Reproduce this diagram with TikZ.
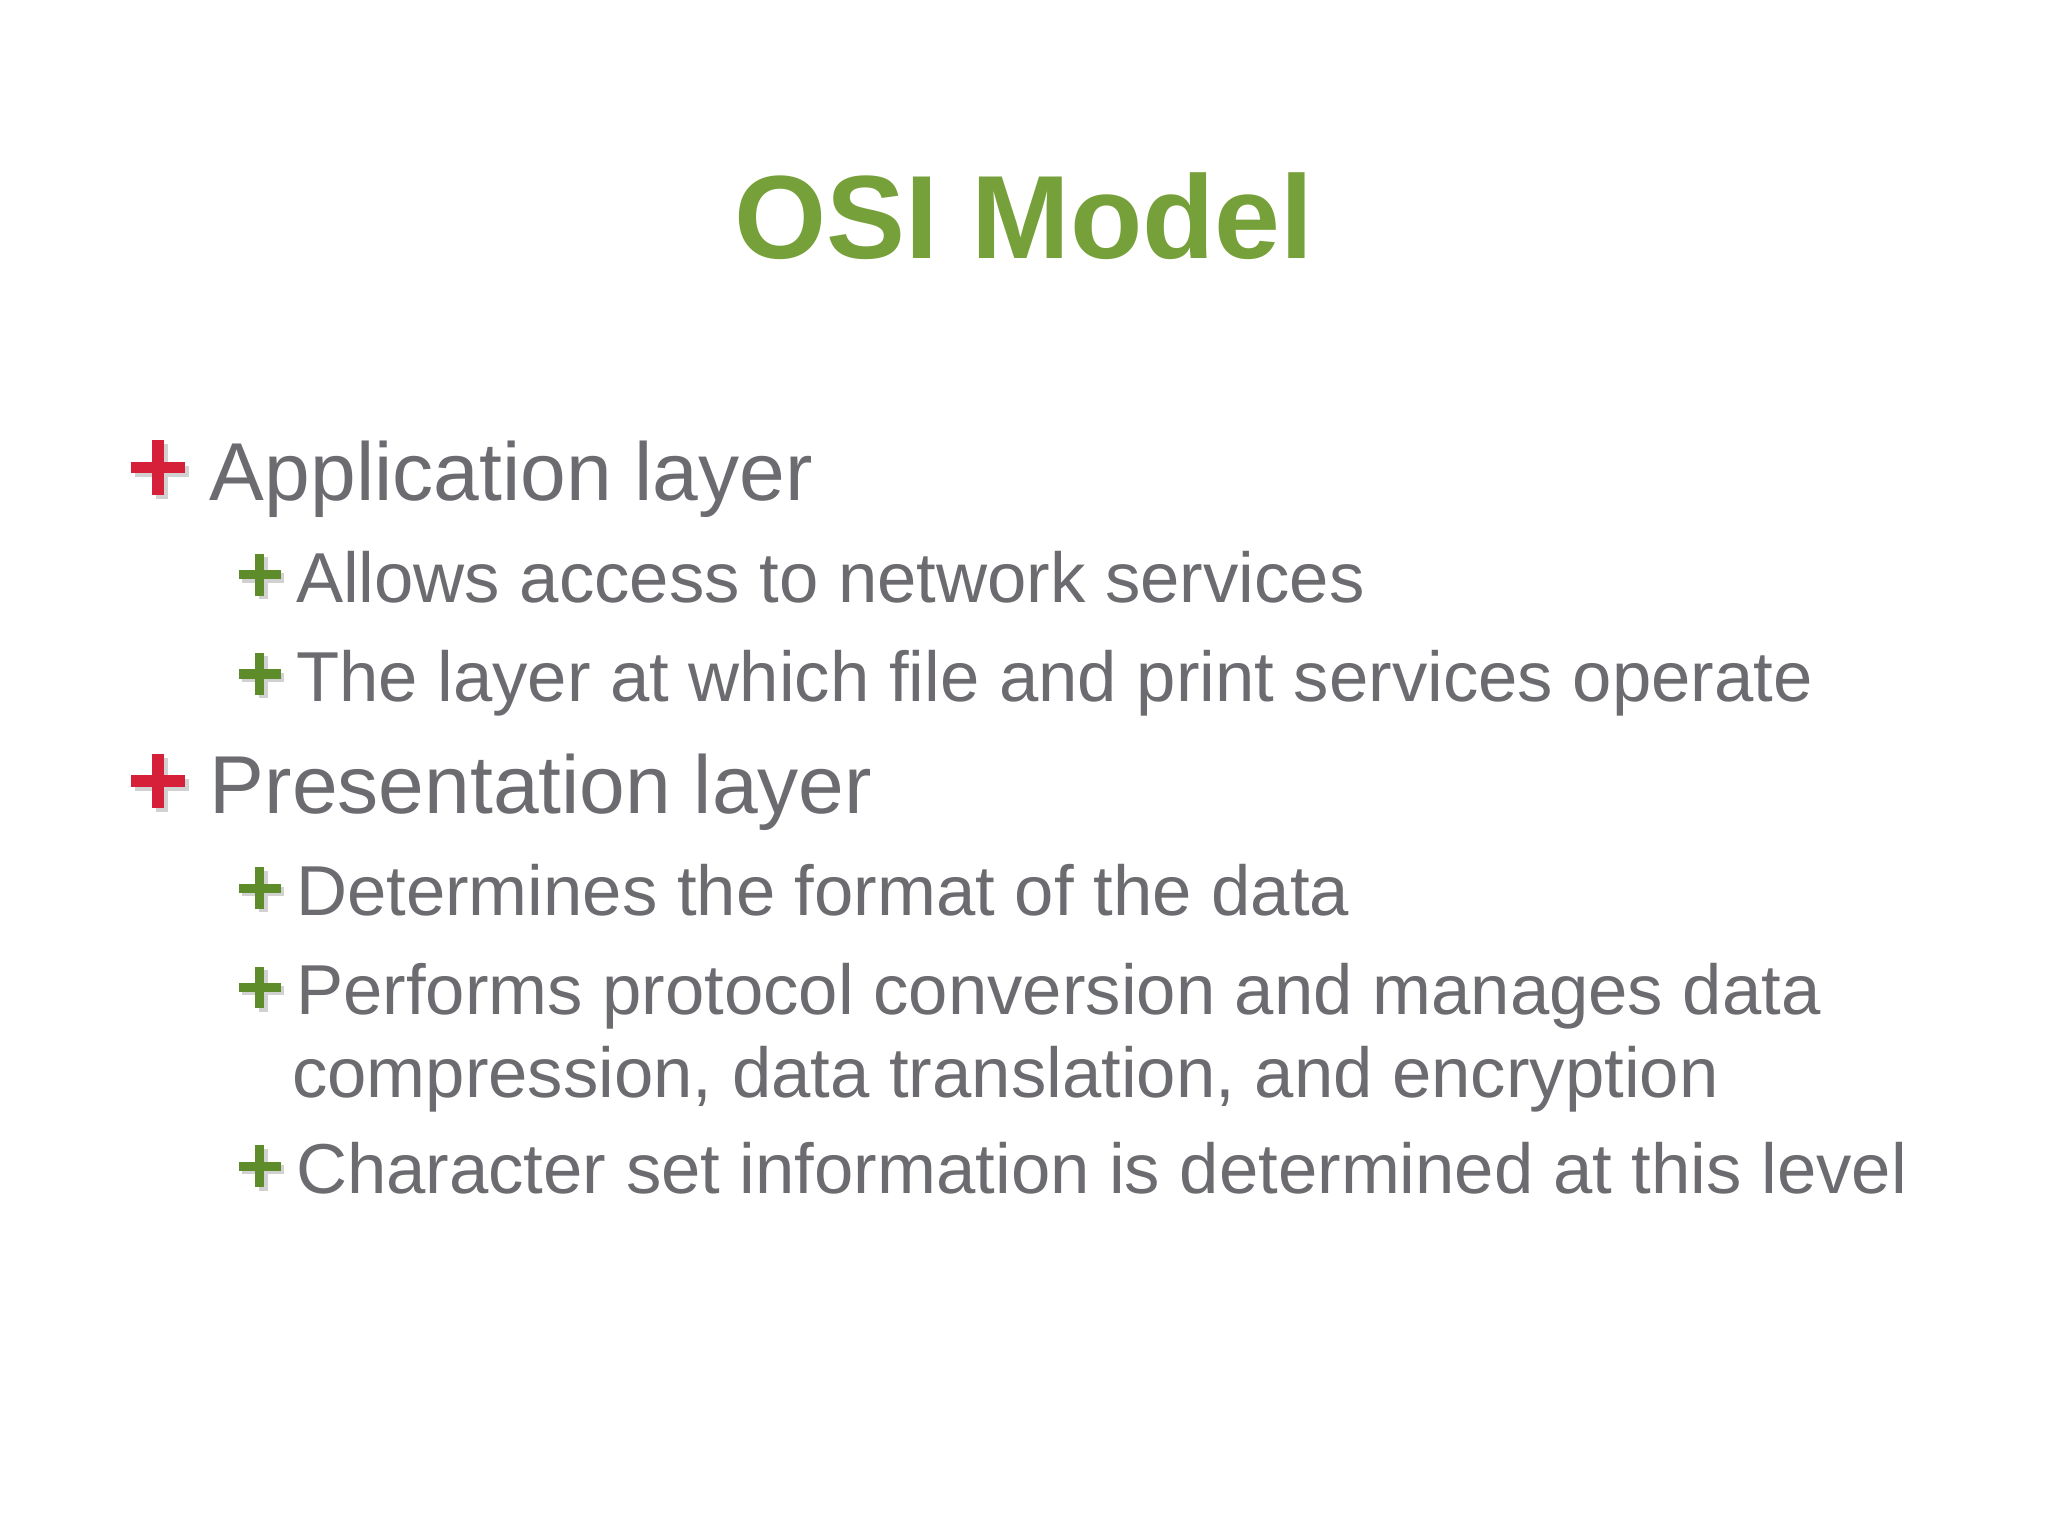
\documentclass[tikz,border=0pt]{standalone}
\usepackage{fontspec}
\setmainfont{Liberation Sans}
\definecolor{titlegreen}{HTML}{76A03A}
\definecolor{txtgray}{HTML}{6C6B70}
\definecolor{plusred}{HTML}{D6203A}
\definecolor{plusgreen}{HTML}{5E8C2A}
\tikzset{
  lone/.style={anchor=base west,inner sep=0pt,text=txtgray,font=\fontsize{17.9pt}{21pt}\selectfont},
  ltwo/.style={anchor=base west,inner sep=0pt,text=txtgray,font=\fontsize{15.4pt}{18pt}\selectfont},
}
\newcommand{\redplus}[2]{%
  \fill[black!18] (#1-0.21+0.03,#2-0.045-0.03) rectangle (#1+0.21+0.03,#2+0.045-0.03);
  \fill[black!18] (#1-0.045+0.03,#2-0.21-0.03) rectangle (#1+0.045+0.03,#2+0.21-0.03);
  \fill[plusred] (#1-0.21,#2-0.045) rectangle (#1+0.21,#2+0.045);
  \fill[plusred] (#1-0.045,#2-0.21) rectangle (#1+0.045,#2+0.21);}
\newcommand{\greenplus}[2]{%
  \fill[black!18] (#1-0.16+0.025,#2-0.035-0.025) rectangle (#1+0.16+0.025,#2+0.035-0.025);
  \fill[black!18] (#1-0.035+0.025,#2-0.16-0.025) rectangle (#1+0.035+0.025,#2+0.16-0.025);
  \fill[plusgreen] (#1-0.16,#2-0.035) rectangle (#1+0.16,#2+0.035);
  \fill[plusgreen] (#1-0.035,#2-0.16) rectangle (#1+0.035,#2+0.16);}
\begin{document}
\begin{tikzpicture}
\fill[white] (0,0) rectangle (15.68,-11.76);
\useasboundingbox (0,0) rectangle (15.68,-11.76);
\node[inner sep=0pt,anchor=base,text=titlegreen,font=\fontsize{25.8pt}{30pt}\selectfont\bfseries] (title) at (7.84,-1.98) {OSI Model};
\redplus{1.21}{-3.58}
\node[lone] (app) at (1.60,-3.83) {Application layer};
\greenplus{1.99}{-4.40}
\node[ltwo] (a1) at (2.26,-4.61) {Allows access to network services};
\greenplus{1.99}{-5.16}
\node[ltwo] (a2) at (2.26,-5.37) {The layer at which file and print services operate};
\redplus{1.21}{-5.98}
\node[lone] (pres) at (1.60,-6.23) {Presentation layer};
\greenplus{1.99}{-6.80}
\node[ltwo] (p1) at (2.26,-7.01) {Determines the format of the data};
\greenplus{1.99}{-7.56}
\node[ltwo] (p2) at (2.26,-7.77) {Performs protocol conversion and manages data};
\node[ltwo] (p2b) at (2.23,-8.40) {compression, data translation, and encryption};
\greenplus{1.99}{-8.93}
\node[ltwo] (p3) at (2.26,-9.14) {Character set information is determined at this level};
\end{tikzpicture}
\end{document}
